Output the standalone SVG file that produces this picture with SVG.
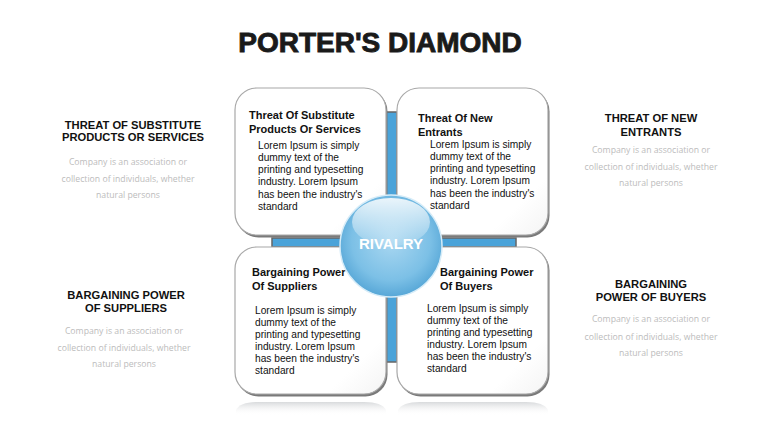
<svg xmlns="http://www.w3.org/2000/svg" width="760" height="428" viewBox="0 0 760 428">
<defs>
<radialGradient id="ball" cx="0.5" cy="0.45" r="0.55">
<stop offset="0" stop-color="#a9d7f1"/>
<stop offset="0.7" stop-color="#7cc0e6"/>
<stop offset="1" stop-color="#57a7d7"/>
</radialGradient>
<linearGradient id="hl" x1="0" y1="0" x2="0" y2="1">
<stop offset="0" stop-color="#ffffff" stop-opacity="0.85"/>
<stop offset="1" stop-color="#ffffff" stop-opacity="0.1"/>
</linearGradient>
<linearGradient id="refl" x1="0" y1="0" x2="0" y2="1">
<stop offset="0" stop-color="#d8dadc"/>
<stop offset="1" stop-color="#ffffff" stop-opacity="0"/>
</linearGradient>
<linearGradient id="boxfill" x1="0" y1="0" x2="1" y2="1">
<stop offset="0" stop-color="#ffffff"/>
<stop offset="0.8" stop-color="#ffffff"/>
<stop offset="1" stop-color="#f4f4f4"/>
</linearGradient>
</defs>
<style>
.title{font-family:"Liberation Sans",Arial,sans-serif;font-weight:bold;font-size:28px;fill:#1a1a1a;stroke:#1a1a1a;stroke-width:0.9}
.sh{font-family:"Liberation Sans",Arial,sans-serif;font-weight:bold;font-size:11.2px;fill:#111;text-anchor:middle}
.sg{font-family:"Open Sans","Liberation Sans",sans-serif;font-size:8.7px;fill:#bcbcbc;text-anchor:middle}
.bh{font-family:"Liberation Sans",Arial,sans-serif;font-weight:bold;font-size:11px;fill:#111}
.bb{font-family:"Liberation Sans",Arial,sans-serif;font-size:10.2px;fill:#111}
.box{fill:url(#boxfill);stroke:#a8a8a8;stroke-width:1.2}
.shadow{fill:#7a7a7a}
.bar{fill:#4aa3d9;stroke:#666;stroke-width:1.5}
.rv{font-family:"Liberation Sans",Arial,sans-serif;font-weight:bold;font-size:15px;fill:#fff;text-anchor:middle}
</style>
<rect width="760" height="428" fill="#fff"/>
<text class="title" x="380" y="52" text-anchor="middle">PORTER'S DIAMOND</text>

<g id="connectors">
<rect class="bar" x="386" y="112" width="11" height="250"/>
<rect class="bar" x="272" y="238" width="244" height="9"/>
</g>

<g id="reflections">
<path d="M236,415 L236,410 Q240,402 258,402 L364,402 Q382,402 386,410 L386,415 Z" fill="url(#refl)"/>
<path d="M398,415 L398,410 Q402,402 420,402 L526,402 Q544,402 548,410 L548,415 Z" fill="url(#refl)"/>
</g>

<g id="box-tl">
<rect class="shadow" x="236.5" y="89.5" width="151" height="148" rx="22"/>
<rect class="box" x="235" y="88" width="151" height="147" rx="22"/>
<text class="bh" x="249" y="119">Threat Of Substitute</text>
<text class="bh" x="249" y="133">Products Or Services</text>
<text class="bb"><tspan x="258" y="149">Lorem Ipsum is simply</tspan><tspan x="258" y="161">dummy text of the</tspan><tspan x="258" y="173">printing and typesetting</tspan><tspan x="258" y="185">industry. Lorem Ipsum</tspan><tspan x="258" y="198">has been the industry's</tspan><tspan x="258" y="210">standard</tspan></text>
</g>

<g id="box-tr">
<rect class="shadow" x="398.5" y="89.5" width="151" height="148" rx="22"/>
<rect class="box" x="397" y="88" width="151" height="147" rx="22"/>
<text class="bh" x="418" y="122">Threat Of New</text>
<text class="bh" x="418" y="136">Entrants</text>
<text class="bb"><tspan x="430" y="148">Lorem Ipsum is simply</tspan><tspan x="430" y="160">dummy text of the</tspan><tspan x="430" y="172">printing and typesetting</tspan><tspan x="430" y="184">industry. Lorem Ipsum</tspan><tspan x="430" y="197">has been the industry's</tspan><tspan x="430" y="209">standard</tspan></text>
</g>

<g id="box-bl">
<rect class="shadow" x="236.5" y="248.5" width="151" height="148" rx="22"/>
<rect class="box" x="235" y="247" width="151" height="147" rx="22"/>
<text class="bh" x="252" y="276">Bargaining Power</text>
<text class="bh" x="252" y="290">Of Suppliers</text>
<text class="bb"><tspan x="255" y="314">Lorem Ipsum is simply</tspan><tspan x="255" y="326">dummy text of the</tspan><tspan x="255" y="338">printing and typesetting</tspan><tspan x="255" y="350">industry. Lorem Ipsum</tspan><tspan x="255" y="362">has been the industry's</tspan><tspan x="255" y="374">standard</tspan></text>
</g>

<g id="box-br">
<rect class="shadow" x="398.5" y="248.5" width="151" height="148" rx="22"/>
<rect class="box" x="397" y="247" width="151" height="147" rx="22"/>
<text class="bh" x="440" y="276">Bargaining Power</text>
<text class="bh" x="440" y="290">Of Buyers</text>
<text class="bb"><tspan x="427" y="312">Lorem Ipsum is simply</tspan><tspan x="427" y="324">dummy text of the</tspan><tspan x="427" y="336">printing and typesetting</tspan><tspan x="427" y="348">industry. Lorem Ipsum</tspan><tspan x="427" y="360">has been the industry's</tspan><tspan x="427" y="372">standard</tspan></text>
</g>

<g id="rivalry">
<circle cx="391" cy="246" r="51" fill="url(#ball)" stroke="#d6ecf8" stroke-width="1.5"/>
<ellipse cx="391" cy="222" rx="39" ry="24" fill="url(#hl)"/>
<text class="rv" x="391" y="249">RIVALRY</text>
</g>

<g id="side-tl">
<text class="sh" x="133" y="129">THREAT OF SUBSTITUTE</text>
<text class="sh" x="133" y="141">PRODUCTS OR SERVICES</text>
<text class="sg" x="128" y="165">Company is an association or</text>
<text class="sg" x="128" y="182">collection of individuals, whether</text>
<text class="sg" x="128" y="198">natural persons</text>
</g>

<g id="side-tr">
<text class="sh" x="651" y="122">THREAT OF NEW</text>
<text class="sh" x="651" y="136">ENTRANTS</text>
<text class="sg" x="651" y="153">Company is an association or</text>
<text class="sg" x="651" y="170">collection of individuals, whether</text>
<text class="sg" x="651" y="186">natural persons</text>
</g>

<g id="side-bl">
<text class="sh" x="126" y="299">BARGAINING POWER</text>
<text class="sh" x="126" y="312">OF SUPPLIERS</text>
<text class="sg" x="124" y="334">Company is an association or</text>
<text class="sg" x="124" y="351">collection of individuals, whether</text>
<text class="sg" x="124" y="367">natural persons</text>
</g>

<g id="side-br">
<text class="sh" x="651" y="288">BARGAINING</text>
<text class="sh" x="651" y="301">POWER OF BUYERS</text>
<text class="sg" x="651" y="322">Company is an association or</text>
<text class="sg" x="651" y="340">collection of individuals, whether</text>
<text class="sg" x="651" y="356">natural persons</text>
</g>
</svg>
